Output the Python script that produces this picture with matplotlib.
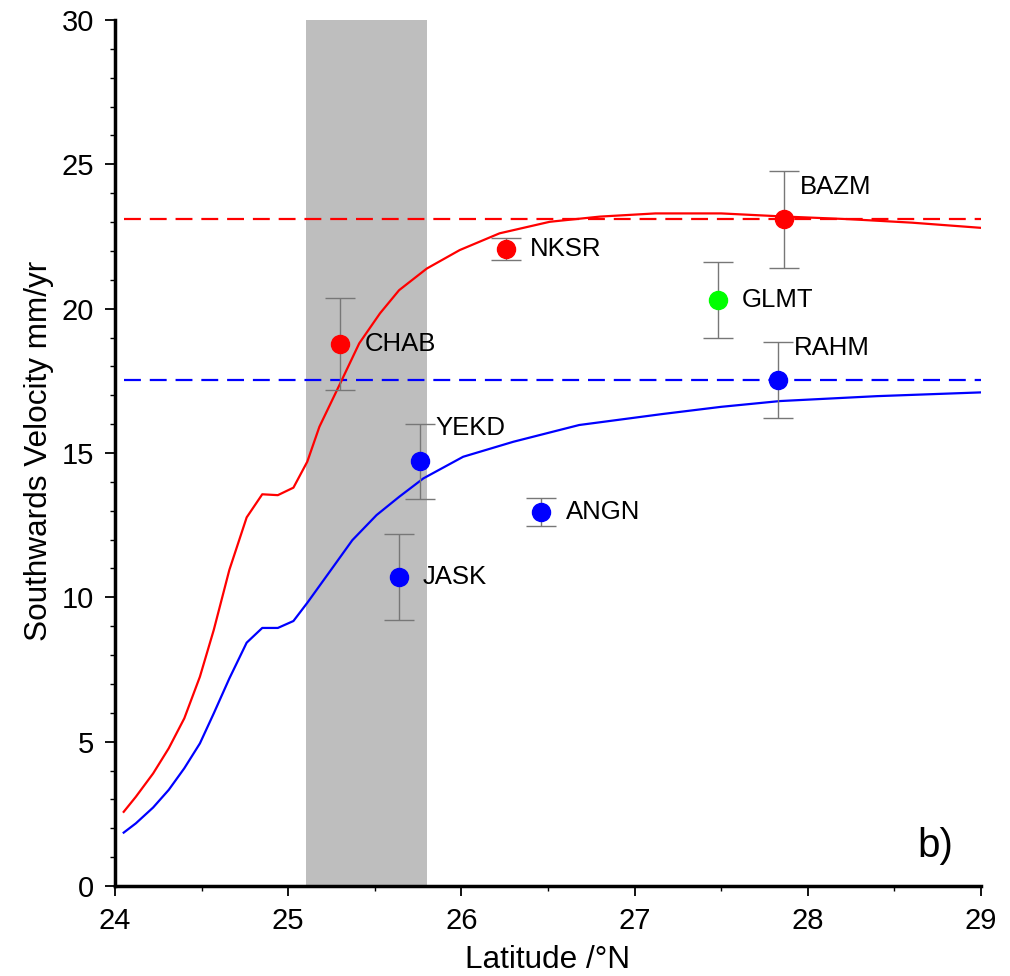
import numpy as np
import matplotlib.pyplot as plt

plt.rcParams['font.family'] = ['Liberation Sans', 'DejaVu Sans']

# model curves (latitude, southwards velocity)
red_lat = [24.05, 24.12, 24.22, 24.31, 24.40, 24.49, 24.57, 24.66, 24.76, 24.85,
           24.94, 25.03, 25.11, 25.18, 25.30, 25.41, 25.53, 25.64, 25.80, 25.99,
           26.22, 26.51, 26.80, 27.12, 27.50, 27.87, 28.24, 28.60, 29.00]
red_vel = [2.57, 3.09, 3.90, 4.77, 5.81, 7.25, 8.87, 10.95, 12.77, 13.57,
           13.54, 13.80, 14.70, 15.91, 17.41, 18.80, 19.84, 20.64, 21.39, 22.03,
           22.61, 23.01, 23.19, 23.30, 23.30, 23.19, 23.10, 22.98, 22.80]
blue_lat = [24.05, 24.12, 24.22, 24.31, 24.40, 24.49, 24.57, 24.66, 24.76, 24.85,
            24.94, 25.03, 25.11, 25.26, 25.37, 25.51, 25.64, 25.78, 26.01, 26.30,
            26.68, 27.16, 27.50, 27.84, 28.40, 29.00]
blue_vel = [1.85, 2.17, 2.72, 3.33, 4.08, 4.94, 5.98, 7.19, 8.43, 8.94,
            8.94, 9.18, 9.81, 11.06, 11.98, 12.85, 13.48, 14.12, 14.87, 15.39,
            15.97, 16.35, 16.60, 16.80, 16.97, 17.10]

red_level = 23.1
blue_level = 17.53
zone = (25.1, 25.8)

# GPS stations
stations = ['CHAB', 'NKSR', 'BAZM', 'GLMT', 'RAHM', 'YEKD', 'JASK', 'ANGN']
st_lat = [25.30, 26.26, 27.865, 27.48, 27.83, 25.76, 25.64, 26.46]
st_vel = [18.77, 22.06, 23.10, 20.30, 17.53, 14.72, 10.70, 12.95]
st_err = [1.60, 0.38, 1.68, 1.33, 1.33, 1.30, 1.48, 0.49]
st_col = ['#ff0000', '#ff0000', '#ff0000', '#00ff00', '#0000ff', '#0000ff', '#0000ff', '#0000ff']

# label offsets in points
offsets = {'CHAB': (18, 0), 'NKSR': (17, 0), 'BAZM': (11, 23), 'GLMT': (17, 0),
           'RAHM': (11, 23), 'YEKD': (11, 24), 'JASK': (17, 0), 'ANGN': (18, 0)}

fig = plt.figure(figsize=(10.1, 9.76), dpi=100)
ax = fig.add_axes([0.1139, 0.0922, 0.8574, 0.8873])

ax.axvspan(zone[0], zone[1], color='#bebebe', lw=0, zorder=0)
ax.plot([red_lat[0], 29], [red_level, red_level], color='#ff0000', lw=1.6, dashes=(7.6, 4))
ax.plot([blue_lat[0], 29], [blue_level, blue_level], color='#0000ff', lw=1.6, dashes=(7.6, 4))
ax.plot(red_lat, red_vel, color='#ff0000', lw=1.6)
ax.plot(blue_lat, blue_vel, color='#0000ff', lw=1.6)

for name, x, y, e, c in zip(stations, st_lat, st_vel, st_err, st_col):
    ax.errorbar(x, y, yerr=e, fmt='none', ecolor='#777777', elinewidth=1, capsize=11, capthick=1, zorder=3)
    ax.plot(x, y, 'o', color=c, ms=13, mec=c, zorder=4)
    ax.annotate(name, (x, y), xytext=offsets[name], textcoords='offset points',
                fontsize=18.5, va='center', ha='left')

ax.text(0.9677, 0.0335, 'b)', transform=ax.transAxes, fontsize=29, ha='right', va='baseline')

ax.set_xlim(24, 29)
ax.set_ylim(0, 30)
ax.set_xticks([24, 25, 26, 27, 28, 29])
ax.set_xticks(np.arange(24, 29.01, 0.5), minor=True)
ax.set_yticks([0, 5, 10, 15, 20, 25, 30])
ax.set_yticks(np.arange(0, 31, 1), minor=True)
ax.tick_params(which='major', direction='out', length=7, width=1.3, labelsize=21, pad=8)
ax.tick_params(which='minor', direction='out', length=3.6, width=1.0)

for s in ['top', 'right']:
    ax.spines[s].set_visible(False)
for s in ['left', 'bottom']:
    ax.spines[s].set_linewidth(2.5)

ax.set_xlabel('Latitude /°N', fontsize=22.7)
ax.set_ylabel('Southwards Velocity mm/yr', fontsize=22.7)
ax.xaxis.set_label_coords(0.5, -0.068)
ax.yaxis.set_label_coords(-0.071, 0.503)

fig.savefig('out.png', dpi=100)
